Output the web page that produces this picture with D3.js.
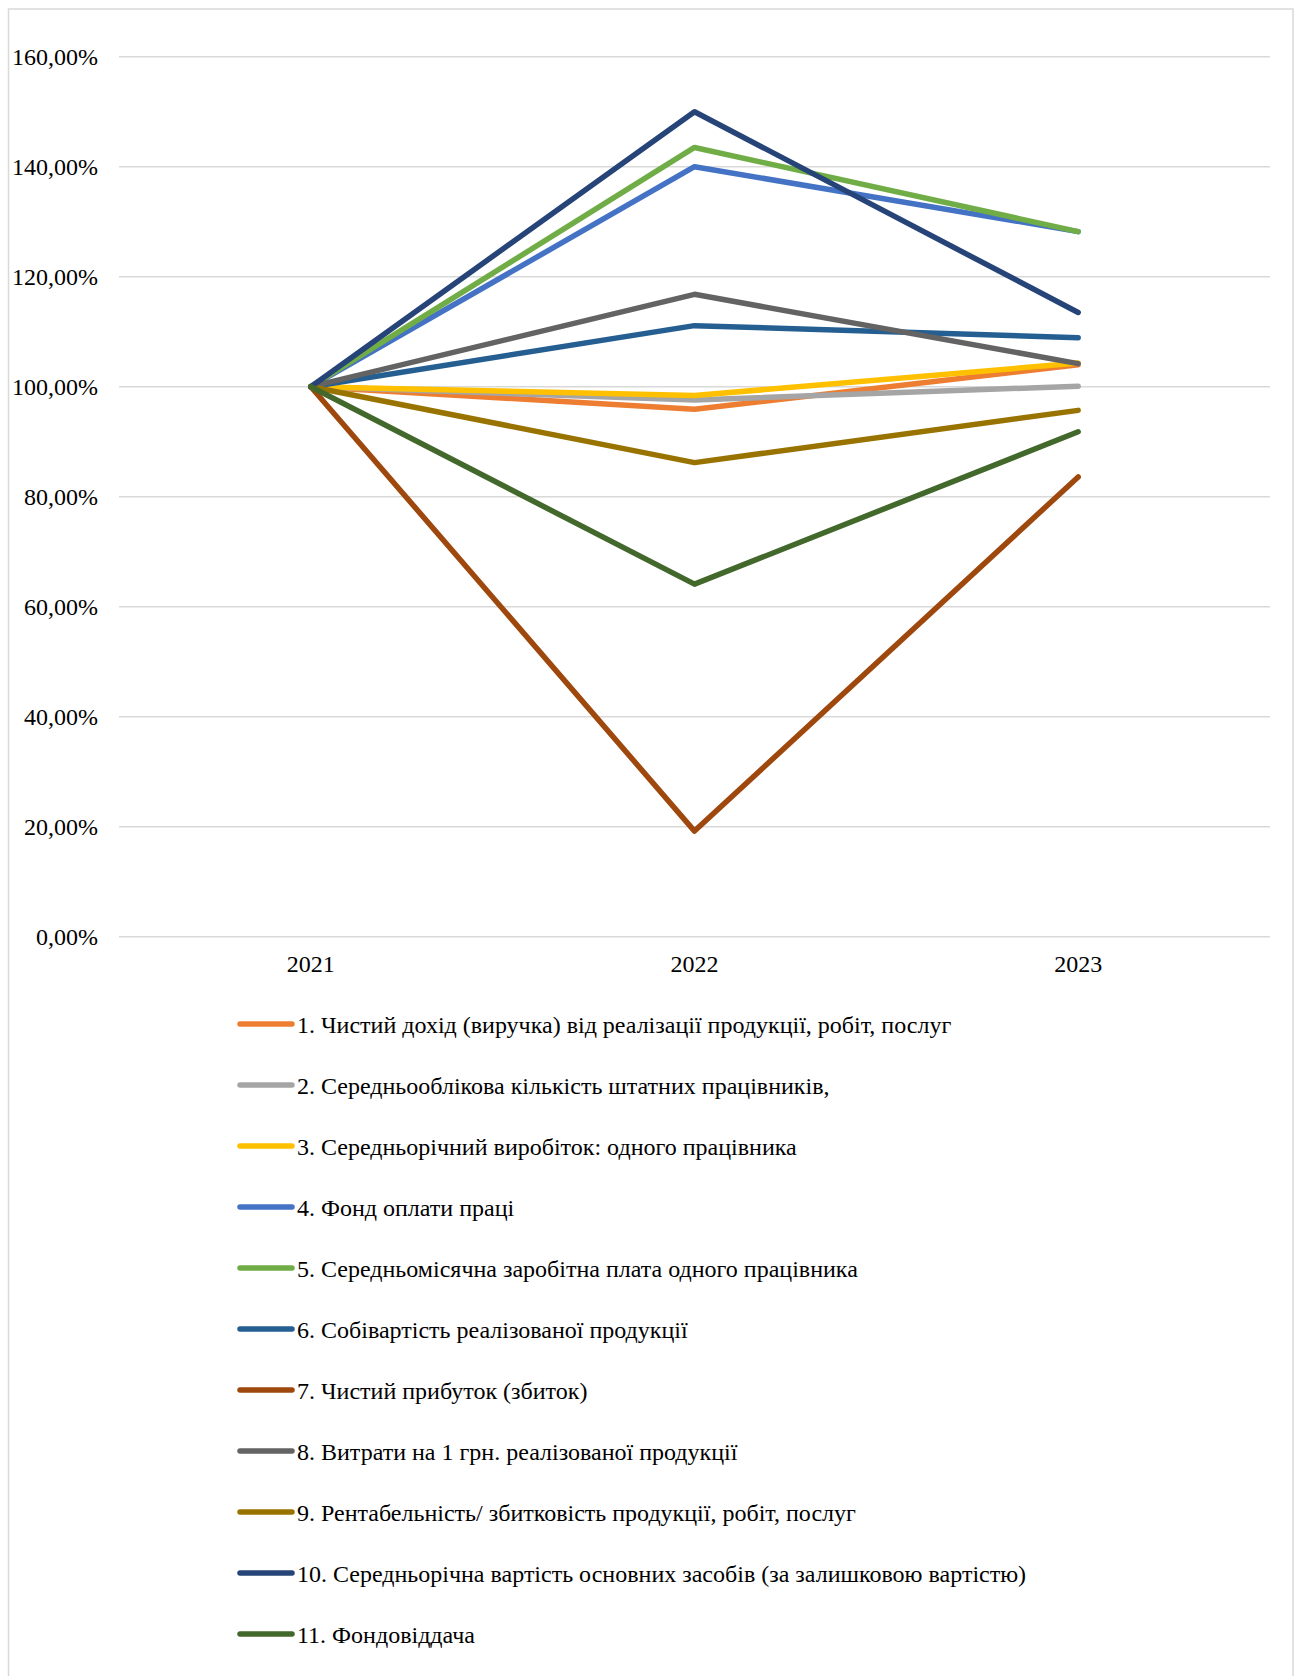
<!DOCTYPE html>
<html>
<head>
<meta charset="utf-8">
<script src="https://cdn.jsdelivr.net/npm/d3@7"></script>
<style>
html,body{margin:0;padding:0;background:#fff;}
svg{display:block;}
text{font-family:"Liberation Serif","Times New Roman","DejaVu Serif",serif;fill:#000;}
</style>
</head>
<body>
<div id="chart"></div>
<script>
const years = ["2021", "2022", "2023"];
const seriesNames = [
  "1. Чистий дохід (виручка) від реалізації продукції, робіт, послуг",
  "2. Середньооблікова кількість штатних працівників,",
  "3. Середньорічний виробіток: одного працівника",
  "4. Фонд оплати праці",
  "5. Середньомісячна заробітна плата одного працівника",
  "6. Собівартість реалізованої продукції",
  "7. Чистий прибуток (збиток)",
  "8. Витрати на 1 грн. реалізованої продукції",
  "9. Рентабельність/ збитковість продукції, робіт, послуг",
  "10. Середньорічна вартість основних засобів (за залишковою вартістю)",
  "11. Фондовіддача"
];
const s1 = [100, 95.9, 104.0];
const s2 = [100, 97.6, 100.1];
const s3 = [100, 98.4, 104.3];
const s4 = [100, 140.0, 128.2];
const s5 = [100, 143.5, 128.2];
const s6 = [100, 111.1, 108.9];
const s7 = [100, 19.2, 83.6];
const s8 = [100, 116.8, 104.2];
const s9 = [100, 86.2, 95.7];
const s10 = [100, 150.0, 113.5];
const s11 = [100, 64.1, 91.8];
const seriesValues = [s1, s2, s3, s4, s5, s6, s7, s8, s9, s10, s11];
const colors = ["#ED7D31", "#A5A5A5", "#FFC000", "#4472C4", "#70AD47", "#255E91",
                "#9E480E", "#636363", "#997300", "#264478", "#43682B"];
const yTicks = [0, 20, 40, 60, 80, 100, 120, 140, 160];
const yTickLabels = ["0,00%", "20,00%", "40,00%", "60,00%", "80,00%", "100,00%", "120,00%", "140,00%", "160,00%"];

const W = 1301, H = 1676;
const FONT = '"Liberation Serif","Times New Roman","DejaVu Serif",serif';
const svg = d3.select("#chart").append("svg").attr("width", W).attr("height", H);

// outer border
svg.append("rect").attr("x", 8.5).attr("y", 9).attr("width", 1284.5).attr("height", H + 20)
  .attr("fill", "#fff").attr("stroke", "#D9D9D9").attr("stroke-width", 1.5);

const plot = {left: 119, right: 1270, top: 56.7, bottom: 936.7};
const x = d3.scaleBand().domain(years).range([plot.left, plot.right]);
const y = d3.scaleLinear().domain([0, 160]).range([plot.bottom, plot.top]);

// gridlines
svg.append("g").selectAll("line").data(yTicks).join("line")
  .attr("x1", plot.left).attr("x2", plot.right)
  .attr("y1", d => y(d)).attr("y2", d => y(d))
  .attr("stroke", "#D9D9D9").attr("stroke-width", 1.5);

// y axis labels
const yAxis = d3.axisLeft(y).tickValues(yTicks).tickSize(0).tickPadding(0)
  .tickFormat((d, i) => yTickLabels[i]);
const gy = svg.append("g").attr("transform", `translate(${98},0)`).call(yAxis);
gy.select(".domain").remove();
gy.attr("font-family", null).attr("font-size", null);
gy.selectAll("text").style("font-family", FONT).style("font-size", "24px")
  .attr("fill", "#000").attr("dy", "0.32em");

// x axis labels
const xAxis = d3.axisBottom(x).tickSize(0).tickPadding(0);
const gx = svg.append("g").attr("transform", `translate(0,${955})`).call(xAxis);
gx.select(".domain").remove();
gx.attr("font-family", null).attr("font-size", null);
gx.selectAll("text").style("font-family", FONT).style("font-size", "24px")
  .attr("fill", "#000").attr("dy", "0.71em");

// lines
const line = d3.line()
  .x((d, i) => x(years[i]) + x.bandwidth() / 2)
  .y(d => y(d));
svg.append("g").selectAll("path").data(seriesValues).join("path")
  .attr("d", d => line(d))
  .attr("fill", "none")
  .attr("stroke", (d, i) => colors[i])
  .attr("stroke-width", 5.5)
  .attr("stroke-linejoin", "round")
  .attr("stroke-linecap", "round");

// legend
const legend = svg.append("g");
const legY0 = 1024, legStep = 61;
const items = legend.selectAll("g").data(seriesNames).join("g")
  .attr("transform", (d, i) => `translate(0,${legY0 + i * legStep})`);
items.append("line").attr("x1", 240).attr("x2", 292).attr("y1", 0).attr("y2", 0)
  .attr("stroke", (d, i) => colors[i]).attr("stroke-width", 5.5).attr("stroke-linecap", "round");
items.append("text").attr("x", 297).attr("y", 0).attr("dy", "0.36em")
  .style("font-family", FONT).style("font-size", "24px").text(d => d);
</script>
</body>
</html>
